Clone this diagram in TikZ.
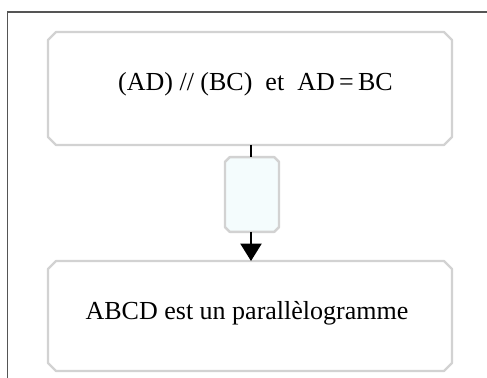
\documentclass[tikz,border=0pt]{standalone}
\usepackage{fontspec}
\setmainfont{Liberation Serif}
\usetikzlibrary{arrows.meta}
\definecolor{boxgray}{HTML}{D2D2D2}
\definecolor{framegray}{HTML}{555555}
\definecolor{smallfill}{HTML}{F4FCFD}
\tikzset{
  boxarea/.style={rectangle, draw=none, inner sep=0pt, outer sep=0pt},
  boxline/.style={draw=boxgray, line width=1.8pt, line join=round},
  txt/.style={font=\fontsize{19.5pt}{23pt}\selectfont, inner sep=0pt},
  conn/.style={line width=1.5pt, black}
}
\newcommand{\chambox}[3]{% node, chamfer, extra opts
  \path[boxline,#3] ([xshift=#2]#1.north west) -- ([xshift=-#2]#1.north east)
    -- ([yshift=-#2]#1.north east) -- ([yshift=#2]#1.south east)
    -- ([xshift=-#2]#1.south east) -- ([xshift=#2]#1.south west)
    -- ([yshift=#2]#1.south west) -- ([yshift=-#2]#1.north west) -- cycle;}
\begin{document}
\begin{tikzpicture}[x=0.75pt,y=-0.75pt]
\useasboundingbox (0,0) rectangle (487,378);
\draw[framegray, line width=0.9pt] (7.5,378) -- (7.5,12) -- (487,12);
\node[boxarea, minimum width=303pt, minimum height=84.75pt] (top) at (250,88.5) {};
\chambox{top}{6pt}{}
\node[txt] (toptext) at (255.5,84) {(AD) // (BC)\ \ et\ \ AD\,=\,BC\hspace{0pt}};
\node[boxarea, minimum width=40.5pt, minimum height=56pt] (mid) at (252,194.5) {};
\chambox{mid}{3.5pt}{fill=smallfill}
\node[boxarea, minimum width=303pt, minimum height=82.5pt] (bot) at (250,316) {};
\chambox{bot}{6pt}{}
\node[txt] (bottext) at (247,313) {ABCD est un parallèlogramme};
\draw[conn] (top.south -| 251,0) -- (mid.north -| 251,0);
\draw[conn, -{Triangle[width=15.75pt, length=13pt]}] (mid.south -| 251,0) -- (bot.north -| 251,0);
\end{tikzpicture}
\end{document}
